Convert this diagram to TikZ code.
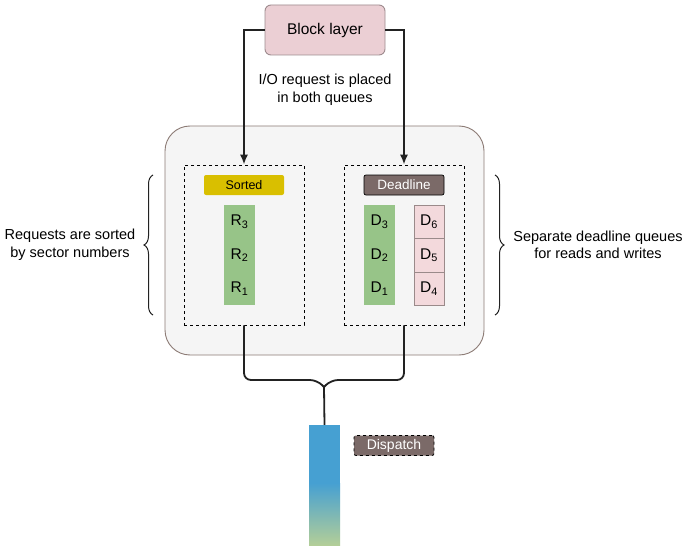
\documentclass[tikz,border=0pt]{standalone}
\usepackage{fontspec}
\setmainfont{Liberation Sans}
\usetikzlibrary{decorations.pathreplacing,arrows.meta}
\definecolor{blockpink}{HTML}{EBCFD4}
\definecolor{blockedge}{HTML}{9E8B8E}
\definecolor{outerfill}{HTML}{F5F5F5}
\definecolor{outeredge}{HTML}{8C7B75}
\definecolor{sortedy}{HTML}{D9BF00}
\definecolor{deadbrown}{HTML}{7B6A68}
\definecolor{qgreen}{HTML}{97C488}
\definecolor{qpink}{HTML}{F3D9DC}
\definecolor{qpinkedge}{HTML}{9A8A8A}
\definecolor{dblue}{HTML}{46A0D2}
\definecolor{dgreen}{HTML}{B3CE98}
\definecolor{linec}{HTML}{222222}
\begin{document}
\begin{tikzpicture}[x=1pt,y=-1pt,
  txt/.style={font=\fontsize{14.5}{17.5}\selectfont, align=center, text=black},
  conn/.style={draw=linec, line width=1.8pt},
  arrowc/.style={conn, -{Latex[length=10pt,width=8pt]}},
  qbox/.style={draw=black, dashed, line width=0.7pt, minimum width=120pt, minimum height=160pt},
  tagbox/.style={rounded corners=2pt, minimum width=80pt, minimum height=20pt, inner sep=0pt, font=\fontsize{12.5}{14}\selectfont},
  gcell/.style={fill=qgreen, minimum width=31pt, minimum height=33.4pt, inner sep=0pt, font=\fontsize{15.5}{17}\selectfont},
  pcell/.style={fill=qpink, draw=qpinkedge, line width=0.8pt, minimum width=30pt, minimum height=33.4pt, inner sep=0pt, font=\fontsize{15.5}{17}\selectfont},
  bracec/.style={draw=linec, line width=1pt, decorate, decoration={brace, amplitude=9pt}}
]
\useasboundingbox[fill=white] (0,0) rectangle (689,551);

% outer container
\node[draw=outeredge, fill=outerfill, line width=0.9pt, rounded corners=25pt,
      minimum width=319pt, minimum height=229pt] (outer) at (324.5,240.5) {};

% block layer
\node[draw=blockedge, fill=blockpink, line width=0.9pt, rounded corners=6pt,
      minimum width=120pt, minimum height=50pt, font=\fontsize{15.5}{17}\selectfont] (block) at (325,30) {Block layer};

\node[txt] (iolabel) at (325,90) {I/O request is placed\\in both queues};

% queue boxes
\node[qbox] (lq) at (244,245) {};
\node[qbox] (rq) at (404,245) {};

\draw[arrowc] (block.west) -| (lq.north);
\draw[arrowc] (block.east) -| (rq.north);

% tags
\node[tagbox, fill=sortedy, text=black] (sorted) at (244,185) {Sorted};
\node[tagbox, fill=deadbrown, draw=black, line width=0.7pt, text=white, font=\fontsize{13.5}{15}\selectfont] (deadline) at (404,185) {Deadline};

% sorted column
\node[gcell] (r3) at (239.5,222) {R\textsubscript{3}};
\node[gcell] (r2) at (239.5,255.3) {R\textsubscript{2}};
\node[gcell] (r1) at (239.5,288.7) {R\textsubscript{1}};

% deadline read column
\node[gcell] (d3) at (379.5,222) {D\textsubscript{3}};
\node[gcell] (d2) at (379.5,255.3) {D\textsubscript{2}};
\node[gcell] (d1) at (379.5,288.7) {D\textsubscript{1}};

% deadline write column
\node[pcell] (d6) at (429,222) {D\textsubscript{6}};
\node[pcell] (d5) at (429,255.3) {D\textsubscript{5}};
\node[pcell] (d4) at (429,288.7) {D\textsubscript{4}};

% braces
\coordinate (lbt) at (153,175);
\coordinate (lbb) at (153,315);
\coordinate (rbt) at (495,175);
\coordinate (rbb) at (495,315);
\draw[bracec] (lbb) -- (lbt);
\draw[bracec] (rbt) -- (rbb);
\node[txt] (ltext) at (70,245) {Requests are sorted\\by sector numbers};
\node[txt] (rtext) at (598,245) {Separate deadline queues\\for reads and writes};

% dispatch bar
\node[fill=dblue, minimum width=31pt, minimum height=120pt, inner sep=0pt] (disp) at (324.5,485) {};
\shade[top color=dblue, bottom color=dgreen] (309,483) rectangle (340,545);
\node[tagbox, fill=deadbrown, draw=black, dashed, line width=0.8pt, text=white,
      font=\fontsize{14}{15}\selectfont] (dlabel) at (394,445.5) {Dispatch};

% merge connector
\coordinate (j) at (324,387);
\draw[conn, rounded corners=7pt] (lq.south) -- (244,380) -- (317,380) -- (j);
\draw[conn, rounded corners=7pt] (rq.south) -- (404,380) -- (331,380) -- (j);
\draw[conn] (j) -- (disp.north);
\end{tikzpicture}
\end{document}
